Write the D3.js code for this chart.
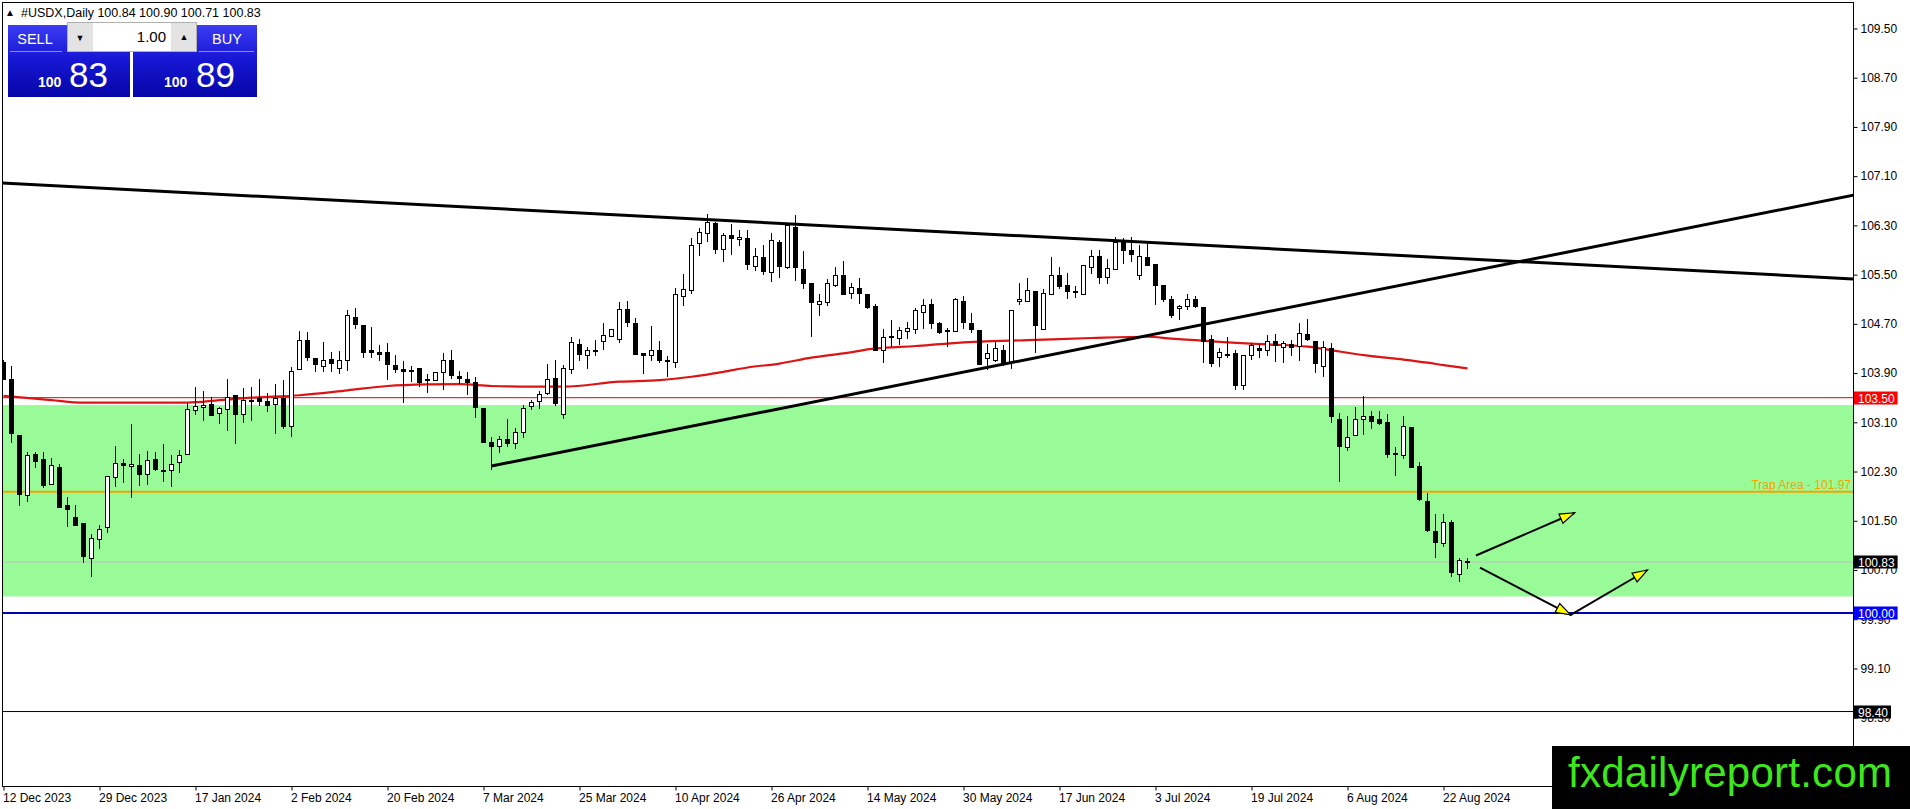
<!DOCTYPE html>
<html>
<head>
<meta charset="utf-8">
<script src="https://cdnjs.cloudflare.com/ajax/libs/d3/7.8.5/d3.min.js"></script>
<style>
  body { margin: 0; background: #ffffff; }
  svg { display: block; font-family: "Liberation Sans", Arial, sans-serif; }
</style>
</head>
<body>
<div class="chart"></div>
<script>

// ---- data (daily bars, index 0 = 12 Dec 2023) ----
var opens = [104.07,103.79,102.88,101.91,102.58,102.49,102.09,102.37,101.75,101.55,
101.45,100.88,101.20,101.39,102.21,102.43,102.38,102.40,102.25,102.50,
102.32,102.31,102.44,102.58,103.29,103.34,103.39,103.24,103.31,103.54,
103.23,103.44,103.49,103.44,103.39,103.49,103.03,103.96,104.43,104.14,
104.01,104.12,103.98,104.11,104.80,104.68,104.26,104.23,104.24,104.02,
103.96,103.94,103.98,103.80,103.78,103.91,104.11,103.85,103.80,103.75,
103.33,102.77,102.70,102.82,102.76,102.93,103.35,103.44,103.57,103.81,
103.22,103.96,104.37,104.19,104.27,104.42,104.49,104.45,104.93,104.71,
104.22,104.19,104.27,104.11,104.07,105.14,105.24,106.01,106.17,106.33,
105.91,106.14,106.07,106.09,105.64,105.78,105.54,106.03,105.61,106.27,
105.58,105.36,105.01,105.04,105.32,105.49,105.19,105.28,105.18,104.99,
104.27,104.48,104.46,104.58,104.61,104.88,105.01,104.71,104.57,104.57,
105.07,104.71,104.60,104.14,104.11,104.27,104.08,105.06,105.07,105.23,
104.61,105.18,105.49,105.33,105.23,105.18,105.61,105.80,105.45,105.58,
106.03,105.90,105.48,105.78,105.67,105.32,105.10,104.95,104.99,105.10,
104.97,104.45,104.16,104.20,104.22,103.70,104.18,104.30,104.27,104.42,
104.32,104.36,104.33,104.53,104.42,104.01,104.30,103.14,102.69,102.89,
103.15,103.20,103.14,103.10,102.59,102.56,103.02,102.39,101.82,101.32,
101.13,101.48,100.63,100.84];

var highs = [104.12,104.01,102.88,102.61,102.61,102.61,102.52,102.43,101.88,101.75,
101.45,101.28,101.43,102.22,102.71,102.50,103.07,102.59,102.63,102.61,
102.74,102.57,102.65,103.41,103.67,103.61,103.51,103.35,103.80,103.54,
103.65,103.68,103.80,103.58,103.72,103.79,104.00,104.58,104.56,104.14,
104.40,104.24,104.26,104.93,104.95,104.68,104.65,104.35,104.39,104.19,
104.10,104.02,103.98,103.88,103.91,104.22,104.27,103.93,103.92,103.83,
103.33,102.86,102.88,103.16,103.00,103.38,103.46,103.61,104.05,104.12,
104.03,104.49,104.45,104.33,104.44,104.71,104.61,105.06,105.07,104.80,
104.23,104.66,104.42,104.18,105.28,105.51,106.09,106.25,106.49,106.36,
106.17,106.32,106.23,106.22,105.94,105.98,106.18,106.06,106.30,106.47,
105.88,105.36,105.18,105.43,105.63,105.72,105.37,105.44,105.18,105.03,
104.61,104.77,104.65,104.73,104.95,105.11,105.11,104.73,104.63,105.12,
105.15,104.87,104.60,104.38,104.41,104.35,104.92,105.36,105.44,105.23,
105.26,105.78,105.62,105.53,105.32,105.65,105.90,105.90,105.75,106.11,
106.09,106.11,105.98,106.01,105.67,105.32,105.15,105.00,105.18,105.15,
104.97,104.52,104.30,104.48,104.27,104.18,104.39,104.38,104.52,104.53,
104.42,104.44,104.72,104.78,104.42,104.42,104.39,103.25,103.20,103.35,
103.53,103.29,103.28,103.24,102.70,103.20,103.03,102.45,101.95,101.61,
101.61,101.51,100.89,100.90];

var lows = [103.78,102.76,101.74,101.81,102.35,102.04,102.09,101.70,101.40,101.41,
100.81,100.59,101.04,101.30,102.05,102.12,101.87,102.06,102.08,102.31,
102.13,102.05,102.28,102.58,103.22,103.12,103.20,103.08,102.96,102.74,
103.09,103.12,103.37,103.27,102.91,102.99,102.86,103.95,104.09,103.91,
103.92,103.92,103.88,103.94,104.62,104.15,104.14,104.09,103.78,103.90,
103.41,103.75,103.68,103.58,103.78,103.63,103.81,103.72,103.55,103.17,
102.76,102.32,102.60,102.70,102.66,102.85,103.30,103.31,103.55,103.36,
103.15,103.89,104.10,103.97,104.18,104.28,104.49,104.39,104.65,104.19,
103.89,104.10,104.07,103.84,103.99,104.99,105.19,105.81,106.03,105.84,
105.71,105.82,105.96,105.58,105.56,105.50,105.38,105.44,105.59,105.39,
105.27,104.49,104.83,104.99,105.30,105.17,105.11,105.03,104.94,104.26,
104.06,104.33,104.35,104.46,104.53,104.61,104.61,104.54,104.32,104.56,
104.62,104.55,104.03,103.95,104.08,104.02,103.97,105.00,105.06,104.23,
104.61,105.18,105.26,105.10,105.12,105.17,105.51,105.34,105.34,105.58,
105.68,105.71,105.41,105.64,105.00,105.06,104.80,104.77,104.93,104.96,
104.06,104.00,104.00,104.15,103.62,103.62,104.11,104.15,104.18,104.08,
104.06,104.18,104.10,104.42,103.90,103.83,103.09,102.13,102.64,102.89,
102.89,102.99,103.05,102.52,102.23,102.51,102.37,101.82,101.32,100.89,
101.07,100.59,100.51,100.71];

var closes = [103.80,102.92,101.93,102.56,102.47,102.08,102.40,101.72,101.68,101.43,
100.92,101.21,101.36,102.22,102.43,102.40,102.41,102.26,102.48,102.33,
102.30,102.41,102.56,103.31,103.36,103.38,103.21,103.33,103.51,103.23,
103.46,103.45,103.44,103.37,103.49,103.04,103.93,104.43,104.15,104.04,
104.11,104.06,104.11,104.84,104.69,104.24,104.24,104.21,104.04,103.96,
103.92,103.93,103.75,103.79,103.91,104.11,103.86,103.82,103.75,103.34,
102.78,102.70,102.82,102.76,102.93,103.32,103.42,103.55,103.79,103.40,
103.98,104.39,104.20,104.27,104.26,104.51,104.61,104.93,104.73,104.21,
104.19,104.26,104.10,104.09,105.18,105.26,105.98,106.19,106.35,105.91,
106.14,106.09,106.10,105.67,105.80,105.55,106.06,105.63,106.30,105.61,
105.35,105.04,105.06,105.36,105.49,105.18,105.29,105.19,104.97,104.27,
104.48,104.49,104.60,104.62,104.92,105.00,104.71,104.56,104.60,105.10,
104.72,104.61,104.04,104.22,104.30,104.08,104.92,105.10,105.24,104.67,
105.19,105.49,105.30,105.23,105.22,105.65,105.79,105.45,105.60,106.03,
105.90,105.82,105.79,105.65,105.32,105.10,104.84,104.99,105.10,104.98,
104.42,104.06,104.23,104.19,103.70,104.18,104.35,104.27,104.41,104.35,
104.38,104.32,104.54,104.45,104.05,104.32,103.19,102.70,102.86,103.15,
103.19,103.12,103.08,102.57,102.58,103.03,102.37,101.84,101.34,101.15,
101.48,100.66,100.85,100.83];

// moving average, sampled [bar index, value]
var maPoints = [[0,103.53],[6,103.46],[10,103.42],[16,103.42],[23,103.42],[27,103.46],
[31,103.50],[37,103.54],[43,103.62],[48,103.69],[53,103.715],[57,103.72],[61,103.69],
[66,103.68],[70,103.68],[77,103.76],[82,103.785],[86,103.84],[90,103.92],[93,103.99],
[97,104.055],[101,104.15],[105,104.22],[109,104.30],[114,104.34],[118,104.38],[122,104.41],
[128,104.435],[136,104.47],[143,104.49],[146,104.46],[149,104.435],[153,104.40],[158,104.365],
[163,104.33],[166,104.27],[171,104.175],[175,104.12],[178,104.07],[180,104.03],[183,103.975]];

var dateLabels = ["12 Dec 2023","29 Dec 2023","17 Jan 2024","2 Feb 2024","20 Feb 2024","7 Mar 2024",
  "25 Mar 2024","10 Apr 2024","26 Apr 2024","14 May 2024","30 May 2024","17 Jun 2024",
  "3 Jul 2024","19 Jul 2024","6 Aug 2024","22 Aug 2024"];
var dateTickIdx = [0,12,24,36,48,60,72,84,96,108,120,132,144,156,168,180];
var priceTicks = [109.5,108.7,107.9,107.1,106.3,105.5,104.7,103.9,103.1,102.3,101.5,100.7,99.9,99.1,98.3];

var resistLevel = 103.50;
var trapLevel = 101.97;
var supportLevel = 100.00;
var lowLevel = 98.40;
var bidPrice = 100.83;
var trapZone = [100.27, 103.38];

var trendDown = [[-0.44, 106.99], [231.25, 105.43]];
var trendUp = [[61, 102.39], [231.25, 106.79]];
var arrowOne = [[184.06, 100.935], [196.4, 101.63]];
var arrowTwo = [[184.56, 100.74], [195.9, 99.97], [205.5, 100.70]];

// ---- layout ----
var W = 1910, H = 809;
var plotL = 2, plotR = 1853, plotT = 2, plotB = 786;

var x = d3.scaleLinear().domain([0, 231.25]).range([3.5, 1853.5]);
var y = d3.scaleLinear().domain([97.19, 109.93]).range([plotB, plotT]);

var svg = d3.select(".chart").append("svg")
    .attr("width", W)
    .attr("height", H);

var defs = svg.append("defs");
defs.append("clipPath").attr("id", "plotclip")
  .append("rect")
    .attr("x", plotL).attr("y", plotT)
    .attr("width", plotR - plotL).attr("height", plotB - plotT);

var grad = defs.append("linearGradient").attr("id", "btnblue")
    .attr("x1", 0).attr("y1", 0).attr("x2", 0).attr("y2", 1);
grad.append("stop").attr("offset", "0%").attr("stop-color", "#3c3cf2");
grad.append("stop").attr("offset", "45%").attr("stop-color", "#1818d6");
grad.append("stop").attr("offset", "100%").attr("stop-color", "#0606a8");

var plot = svg.append("g").attr("clip-path", "url(#plotclip)");

// trap zone
plot.append("rect")
    .attr("x", plotL)
    .attr("y", y(trapZone[1]))
    .attr("width", plotR - plotL)
    .attr("height", y(trapZone[0]) - y(trapZone[1]))
    .style("fill", "#98fb98");

// horizontal levels
function hline(v, color, w) {
  plot.append("line")
      .attr("x1", plotL).attr("x2", plotR)
      .attr("y1", y(v)).attr("y2", y(v))
      .style("stroke", color)
      .style("stroke-width", w);
}
hline(bidPrice, "#c0c0c0", 1);
hline(resistLevel, "#e00000", 1);
hline(trapLevel, "#f5a300", 2);
hline(supportLevel, "#0000b4", 2);
hline(lowLevel, "#000000", 1);

plot.append("text")
    .text("Trap Area - " + trapLevel.toFixed(2))
    .attr("x", plotR - 2)
    .attr("y", y(trapLevel) - 3)
    .attr("text-anchor", "end")
    .attr("font-size", 12)
    .style("fill", "#f5a300");

// moving average
var maLine = d3.line()
    .x(function(d) { return x(d[0]); })
    .y(function(d) { return y(d[1]); })
    .curve(d3.curveMonotoneX);

plot.append("path")
    .datum(maPoints)
    .attr("d", maLine)
    .style("fill", "none")
    .style("stroke", "#dc1414")
    .style("stroke-width", 2.2);

// candles
var bars = d3.range(opens.length);
var candles = plot.append("g").attr("shape-rendering", "crispEdges");

candles.selectAll(".wick").data(bars).enter().append("line")
    .attr("class", "wick")
    .attr("x1", function(i) { return x(i); })
    .attr("x2", function(i) { return x(i); })
    .attr("y1", function(i) { return y(highs[i]); })
    .attr("y2", function(i) { return y(lows[i]); })
    .style("stroke", "#000")
    .style("stroke-width", 1);

candles.selectAll(".body").data(bars).enter().append("rect")
    .attr("class", "body")
    .attr("x", function(i) { return x(i) - 2; })
    .attr("width", 4)
    .attr("y", function(i) { return y(Math.max(opens[i], closes[i])); })
    .attr("height", function(i) {
      return Math.max(1, Math.abs(y(opens[i]) - y(closes[i])));
    })
    .style("fill", function(i) { return closes[i] >= opens[i] ? "#ffffff" : "#000000"; })
    .style("stroke", "#000")
    .style("stroke-width", 1);

// trend lines
var seg = d3.line()
    .x(function(d) { return x(d[0]); })
    .y(function(d) { return y(d[1]); });

[trendDown, trendUp].forEach(function(t) {
  plot.append("path")
      .attr("d", seg(t))
      .style("fill", "none")
      .style("stroke", "#000")
      .style("stroke-width", 3);
});

// arrows with yellow heads
function arrowHead(p0, p1) {
  var ax = x(p0[0]), ay = y(p0[1]), bx = x(p1[0]), by = y(p1[1]);
  var ang = Math.atan2(by - ay, bx - ax);
  var len = 15, hw = 5;
  var cx = bx - len * Math.cos(ang), cy = by - len * Math.sin(ang);
  var pts = [
    [bx, by],
    [cx + hw * Math.sin(ang), cy - hw * Math.cos(ang)],
    [cx - hw * Math.sin(ang), cy + hw * Math.cos(ang)]
  ];
  plot.append("polygon")
      .attr("points", pts.map(function(p) { return p.join(","); }).join(" "))
      .style("fill", "#ffff00")
      .style("stroke", "#000")
      .style("stroke-width", 1.2);
}

plot.append("path").attr("d", seg(arrowOne))
    .style("fill", "none").style("stroke", "#000").style("stroke-width", 2);
arrowHead(arrowOne[0], arrowOne[1]);

plot.append("path").attr("d", seg(arrowTwo))
    .style("fill", "none").style("stroke", "#000").style("stroke-width", 2);
arrowHead(arrowTwo[0], arrowTwo[1]);
arrowHead(arrowTwo[1], arrowTwo[2]);

// frame
svg.append("rect")
    .attr("x", plotL + 0.5).attr("y", plotT + 0.5)
    .attr("width", plotR - plotL).attr("height", plotB - plotT)
    .style("fill", "none")
    .style("stroke", "#000")
    .style("stroke-width", 1);

// price axis
var yAxis = d3.axisRight(y)
    .tickValues(priceTicks)
    .tickFormat(d3.format(".2f"))
    .tickSize(4)
    .tickPadding(3);

var ya = svg.append("g")
    .attr("transform", "translate(" + (plotR + 0.5) + ",0)")
    .call(yAxis);
ya.select(".domain").remove();
ya.selectAll("text").attr("font-size", 12).attr("font-family", "Liberation Sans, Arial, sans-serif").style("fill", "#000");
ya.selectAll("line").style("stroke", "#000");

// date axis
var xAxis = d3.axisBottom(x)
    .tickValues(dateTickIdx)
    .tickFormat(function(d, i) { return dateLabels[i]; })
    .tickSize(4)
    .tickPadding(3);

var xa = svg.append("g")
    .attr("transform", "translate(0," + (plotB + 0.5) + ")")
    .call(xAxis);
xa.select(".domain").remove();
xa.selectAll("text")
    .attr("text-anchor", "start")
    .attr("dx", -1)
    .attr("font-size", 12)
    .attr("font-family", "Liberation Sans, Arial, sans-serif")
    .style("fill", "#000");
xa.selectAll("line").style("stroke", "#000");

// price tags on the axis (they sit over the tick labels, as in the terminal)
function priceTag(v, bg) {
  var t = v.toFixed(2);
  var w = t.length * 6.6 + 4;
  svg.append("rect")
      .attr("x", plotR + 1)
      .attr("y", Math.round(y(v)) - 6.5)
      .attr("width", w)
      .attr("height", 13)
      .style("fill", bg);
  svg.append("text")
      .text(t)
      .attr("x", plotR + 5)
      .attr("y", Math.round(y(v)) + 4.5)
      .attr("font-size", 12)
      .style("fill", "#fff");
}
priceTag(resistLevel, "#ff0000");
priceTag(bidPrice, "#000000");
priceTag(supportLevel, "#0000ff");
priceTag(lowLevel, "#000000");

// header line
var hdr = svg.append("g");
hdr.append("text").text("\u25B2")
    .attr("x", 5).attr("y", 16).attr("font-size", 10).style("fill", "#000");
hdr.append("text")
    .text("#USDX,Daily  " + opens[opens.length - 1].toFixed(2) + " " + highs[highs.length - 1].toFixed(2) + " " +
          lows[lows.length - 1].toFixed(2) + " " + closes[closes.length - 1].toFixed(2))
    .attr("x", 21).attr("y", 17).attr("font-size", 12.5).style("fill", "#000");

// one-click trading panel
var panel = svg.append("g");
panel.append("rect").attr("x", 8).attr("y", 25).attr("width", 122).attr("height", 72)
    .style("fill", "url(#btnblue)");
panel.append("rect").attr("x", 133).attr("y", 25).attr("width", 124).attr("height", 72)
    .style("fill", "url(#btnblue)");
panel.append("line").attr("x1", 10).attr("x2", 62).attr("y1", 51.5).attr("y2", 51.5)
    .style("stroke", "#8c8cff");
panel.append("line").attr("x1", 199).attr("x2", 254).attr("y1", 51.5).attr("y2", 51.5)
    .style("stroke", "#8c8cff");
panel.append("rect").attr("x", 67.5).attr("y", 22.5).attr("width", 129).attr("height", 29)
    .style("fill", "#e3e3e3").style("stroke", "#b0b0b0");
panel.append("rect").attr("x", 93).attr("y", 23).attr("width", 78).attr("height", 28)
    .style("fill", "#ffffff");
panel.append("text").text("\u25BC").attr("x", 80).attr("y", 41).attr("font-size", 9)
    .attr("text-anchor", "middle").style("fill", "#000");
panel.append("text").text("\u25B2").attr("x", 184).attr("y", 40).attr("font-size", 9)
    .attr("text-anchor", "middle").style("fill", "#000");
panel.append("text").text("1.00").attr("x", 166).attr("y", 42).attr("font-size", 15)
    .attr("text-anchor", "end").style("fill", "#000");
panel.append("text").text("SELL").attr("x", 35).attr("y", 44).attr("font-size", 14.5)
    .attr("text-anchor", "middle").style("fill", "#fff");
panel.append("text").text("BUY").attr("x", 227).attr("y", 44).attr("font-size", 14.5)
    .attr("text-anchor", "middle").style("fill", "#fff");

var bidTxt = bidPrice.toFixed(2), askTxt = (bidPrice + 0.06).toFixed(2);
panel.append("text").text(bidTxt.slice(0, 3)).attr("x", 38).attr("y", 87)
    .attr("font-size", 14).attr("font-weight", "bold").style("fill", "#fff");
panel.append("text").text(bidTxt.slice(4)).attr("x", 69).attr("y", 87)
    .attr("font-size", 35).style("fill", "#fff");
panel.append("text").text(askTxt.slice(0, 3)).attr("x", 164).attr("y", 87)
    .attr("font-size", 14).attr("font-weight", "bold").style("fill", "#fff");
panel.append("text").text(askTxt.slice(4)).attr("x", 196).attr("y", 87)
    .attr("font-size", 35).style("fill", "#fff");

// logo
svg.append("rect").attr("x", 1552).attr("y", 746).attr("width", 358).attr("height", 63)
    .style("fill", "#000");
svg.append("text").text("fxdailyreport.com")
    .attr("x", 1568).attr("y", 787)
    .attr("font-size", 42)
    .attr("textLength", 324)
    .style("fill", "#3ee61e");

</script>
</body>
</html>
